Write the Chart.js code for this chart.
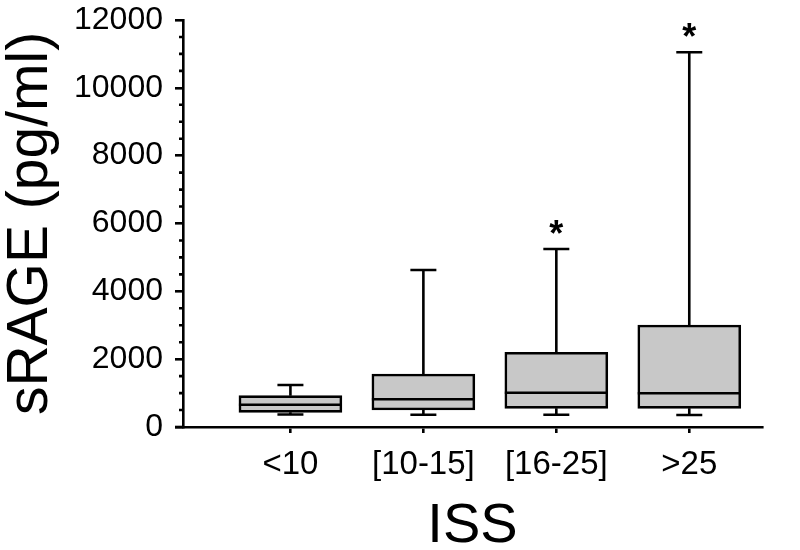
<!DOCTYPE html>
<html><head><meta charset="utf-8">
<script src="https://cdn.jsdelivr.net/npm/chart.js@4/dist/chart.umd.min.js"></script>
<style>html,body{margin:0;padding:0;background:#fff}#wrap{width:800px;height:550px}</style>
</head><body><div id="wrap"><canvas id="c" width="800" height="550"></canvas></div>
<script>
const categories = ['<10', '[10-15]', '[16-25]', '>25'];
const mins    = [370, 360, 360, 355];
const q1s     = [433, 501, 551, 551];
const medians = [657, 816, 1011, 993];
const q3s     = [923, 1562, 2202, 3007];
const maxs    = [1238, 4630, 5250, 11047];
const significant = [false, false, true, true];
const yTicks = [0, 2000, 4000, 6000, 8000, 10000, 12000];

const FONT = "'Liberation Sans', Arial, sans-serif";
const positions = categories.map((c, i) => i + 1);
const LW = 2.6;

const boxPlugin = {
  id: 'boxExtras',
  afterDatasetsDraw(chart) {
    const ctx = chart.ctx, xs = chart.scales.x, ys = chart.scales.y;
    ctx.save();
    ctx.strokeStyle = '#000'; ctx.lineWidth = LW; ctx.lineCap = 'butt';
    const half = 51.5, cap = 13;
    positions.forEach((p, i) => {
      const x = xs.getPixelForValue(p);
      const yMin = ys.getPixelForValue(mins[i]), yQ1 = ys.getPixelForValue(q1s[i]);
      const yMed = ys.getPixelForValue(medians[i]), yQ3 = ys.getPixelForValue(q3s[i]);
      const yMax = ys.getPixelForValue(maxs[i]);
      ctx.beginPath();
      ctx.moveTo(x, yQ3); ctx.lineTo(x, yMax);
      ctx.moveTo(x - cap, yMax); ctx.lineTo(x + cap, yMax);
      ctx.moveTo(x, yQ1); ctx.lineTo(x, yMin);
      ctx.moveTo(x - cap, yMin); ctx.lineTo(x + cap, yMin);
      ctx.moveTo(x - half, yMed); ctx.lineTo(x + half, yMed);
      ctx.stroke();
      if (significant[i]) {
        ctx.fillStyle = '#000';
        ctx.font = 'bold 36px ' + FONT;
        ctx.textAlign = 'center'; ctx.textBaseline = 'middle';
        ctx.fillText('*', x, yMax - 13);
      }
    });
    // minor ticks on y axis
    const xa = chart.chartArea.left;
    ctx.beginPath();
    for (let v = 500; v < 12000; v += 500) {
      if (v % 2000 === 0) continue;
      const y = ys.getPixelForValue(v);
      ctx.moveTo(xa - 4, y); ctx.lineTo(xa, y);
    }
    ctx.stroke();
    // extend x axis line to the left under major tick
    ctx.beginPath();
    const yb = chart.chartArea.bottom;
    ctx.moveTo(xa - 8, yb); ctx.lineTo(xa, yb);
    ctx.stroke();
    ctx.restore();
  }
};

new Chart(document.getElementById('c'), {
  type: 'bar',
  data: {
    datasets: [{
      data: positions.map((p, i) => ({ x: p, y: [q1s[i], q3s[i]] })),
      backgroundColor: '#c8c8c8',
      borderColor: '#000',
      borderWidth: LW,
      borderSkipped: false,
      barThickness: 103
    }]
  },
  options: {
    responsive: false,
    animation: false,
    events: [],
    layout: { padding: { left: 0, right: 38, top: 20, bottom: 0 } },
    plugins: { legend: { display: false }, tooltip: { enabled: false } },
    scales: {
      x: {
        type: 'linear', min: 0.192, max: 4.547, offset: false,
        afterBuildTicks(s) { s.ticks = positions.map(v => ({ value: v })); },
        afterFit(s) { s.height = 123; s.paddingLeft = 0; s.paddingRight = 0; },
        border: { display: true, color: '#000', width: LW },
        grid: { offset: false, drawOnChartArea: false, drawTicks: true, tickLength: 6, color: '#000', lineWidth: LW },
        ticks: {
          color: '#000', font: { family: FONT, size: 33 }, padding: 12, maxRotation: 0,
          callback: (v) => categories[Math.round(v) - 1]
        },
        title: { display: true, text: 'ISS', color: '#000', font: { family: FONT, size: 56, lineHeight: 0.85 }, padding: { top: 0, bottom: 0 } }
      },
      y: {
        type: 'linear', min: 0, max: 12000,
        afterBuildTicks(s) { s.ticks = yTicks.map(v => ({ value: v })); },
        afterFit(s) { s.width = 183; s.paddingTop = 0; s.paddingBottom = 0; },
        border: { display: true, color: '#000', width: LW },
        grid: { drawOnChartArea: false, drawTicks: true, tickLength: 8, color: '#000', lineWidth: LW },
        ticks: { color: '#000', font: { family: FONT, size: 32 }, padding: 12, callback: (v) => String(v) },
        title: { display: true, text: 'sRAGE (pg/ml)', color: '#000', font: { family: FONT, size: 57, lineHeight: 1 }, padding: { top: 3, bottom: 0 } }
      }
    }
  },
  plugins: [boxPlugin]
});
</script></body></html>
